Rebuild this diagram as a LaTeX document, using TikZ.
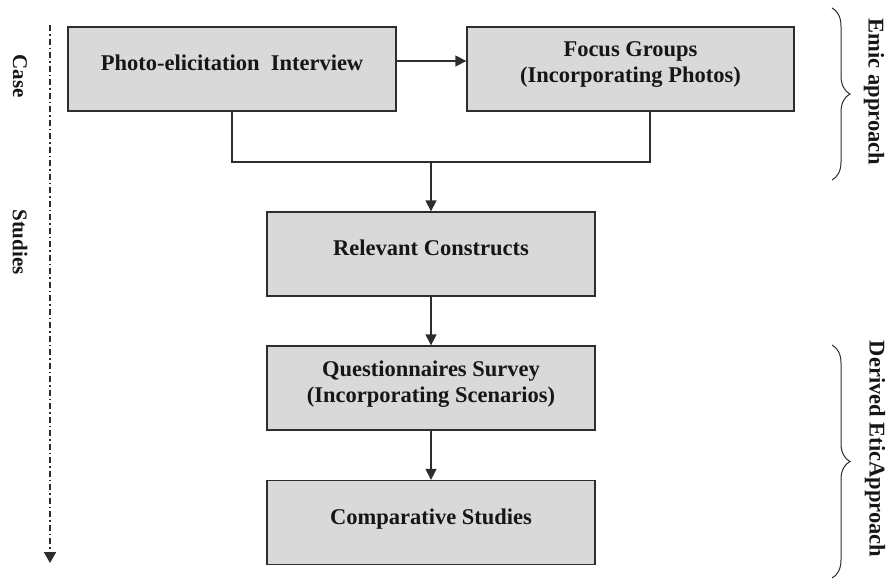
\documentclass[tikz,border=0pt]{standalone}
\usepackage{fontspec}
\setmainfont{Liberation Serif}
\usetikzlibrary{arrows.meta,decorations.pathreplacing}
\definecolor{boxfill}{RGB}{217,217,217}
\definecolor{ink}{RGB}{45,45,45}
\definecolor{textink}{RGB}{22,22,22}

\begin{document}
\begin{tikzpicture}[x=1pt,y=-1pt,
  stagebox/.style={draw=ink, line width=1.3pt, fill=boxfill, inner sep=0pt, minimum height=84pt},
  stagetext/.style={font=\fontsize{22.5}{26}\selectfont\bfseries, text=textink, align=center, inner sep=0pt, yshift=4pt},
  oneline/.style={text height=16pt, text depth=5pt},
  link/.style={draw=ink, line width=1.3pt},
  flow/.style={link, -{Triangle[length=11pt,width=11pt]}},
  sidenote/.style={font=\fontsize{22.5}{26}\selectfont\bfseries, text=textink, rotate=-90, inner sep=0pt},
  bracket/.style={draw=ink, line width=1pt, decorate, decoration={brace, amplitude=18pt}},
]
\path[use as bounding box] (0,0) rectangle (886,579);

% stages
\node[stagebox, minimum width=328pt] (b1) at (232,69) {};
\node[stagebox, minimum width=327pt] (b2) at (630.5,69) {};
\node[stagebox, minimum width=328pt] (b3) at (431,254) {};
\node[stagebox, minimum width=328pt] (b4) at (431,388) {};
\node[stagebox, minimum width=328pt] (b5) at (431,522.5) {};

\node[stagetext, oneline] (t1) at (b1) {Photo-elicitation~ Interview};
\node[stagetext] (t2) at (b2) {Focus Groups\\(Incorporating Photos)};
\node[stagetext, oneline] (t3) at (b3) {Relevant Constructs};
\node[stagetext] (t4) at (b4) {Questionnaires Survey\\(Incorporating Scenarios)};
\node[stagetext, oneline] (t5) at (b5) {Comparative Studies};

% connectors
\draw[flow] ([yshift=8pt]b1.east) -- ([yshift=8pt]b2.west);
\coordinate (join) at (431,162);
\draw[link] (b1.south) |- (join) -| ([xshift=19.5pt]b2.south);
\draw[flow] (join) -- (b3.north);
\draw[flow] (b3) -- (b4);
\draw[flow] (b4) -- (b5);

% case-study axis
\coordinate (axtop) at (50,25);
\coordinate (axend) at (50,563);
\draw[ink, line width=1.8pt, dash pattern=on 6pt off 3pt on 1.5pt off 3pt,
      -{Triangle[length=11pt,width=12pt]}] (axtop) -- (axend);
\node[sidenote, font=\fontsize{21}{24}\selectfont\bfseries] (case) at (20,76) {Case};
\node[sidenote, font=\fontsize{21}{24}\selectfont\bfseries] (studies) at (20,242) {Studies};

% approach brackets
\coordinate (e1) at (832,8);
\coordinate (e2) at (832,180);
\coordinate (d1) at (832,345);
\coordinate (d2) at (832,578);
\draw[bracket] (e1) -- (e2);
\draw[bracket] (d1) -- (d2);
\node[sidenote] (emic) at (874,92) {Emic approach};
\node[sidenote] (etic) at (875,449) {Derived EticApproach};
\end{tikzpicture}
\end{document}
